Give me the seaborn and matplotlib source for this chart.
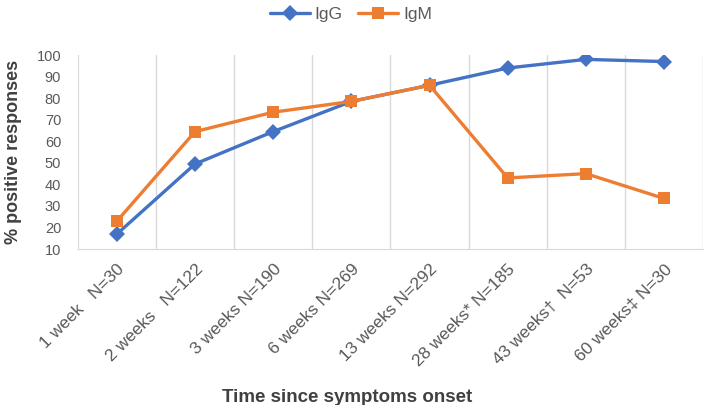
import pandas as pd
import matplotlib.pyplot as plt
import seaborn as sns

# data
categories = ["1 week   N=30", "2 weeks   N=122", "3 weeks N=190", "6 weeks N=269",
              "13 weeks N=292", "28 weeks* N=185", "43 weeks\u2020  N=53", "60 weeks\u2021 N=30"]
igg = [17, 49.5, 64.5, 78.5, 86, 94, 98, 97]
igm = [23, 64.5, 73.5, 78.5, 86, 43, 45, 33.5]

df = pd.DataFrame({
    "pos": list(range(len(categories))) * 2,
    "value": igg + igm,
    "series": ["IgG"] * len(igg) + ["IgM"] * len(igm),
})

sns.set_style("white")
plt.rcParams["font.family"] = ["Liberation Sans", "DejaVu Sans"]

fig = plt.figure(figsize=(7.08, 4.05), dpi=100)
ax = fig.add_axes([0.110, 0.385, 0.883, 0.479])

palette = {"IgG": "#4472C4", "IgM": "#ED7D31"}
sns.lineplot(data=df, x="pos", y="value", hue="series", style="series",
             markers={"IgG": "D", "IgM": "s"}, dashes=False, palette=palette,
             linewidth=2.4, markersize=8.5, markeredgewidth=0, ax=ax)

ax.set_xlim(-0.5, len(categories) - 0.5)
ax.set_ylim(10, 100)
ax.set_yticks(range(10, 101, 10))
ax.set_xticks(range(len(categories)))
ax.set_xticklabels(categories, rotation=45, ha="right", rotation_mode="anchor")
ax.set_xticks([i + 0.5 for i in range(len(categories))], minor=True)
ax.grid(True, which="minor", axis="x", color="#d9d9d9", linewidth=1)
ax.grid(False, which="major")
ax.tick_params(axis="both", which="both", length=0, labelsize=10.5, colors="#595959")
ax.tick_params(axis="x", labelsize=12.5, pad=9)
ax.tick_params(axis="y", pad=12)

for side in ["top", "right"]:
    ax.spines[side].set_visible(False)
for side in ["left", "bottom"]:
    ax.spines[side].set_color("#d9d9d9")

ax.set_xlabel("Time since symptoms onset", fontsize=13.5, fontweight="bold", color="#404040")
ax.set_ylabel("% positive responses", fontsize=13, fontweight="bold", color="#404040")
ax.xaxis.set_label_coords(0.43, -0.72)
ax.yaxis.set_label_coords(-0.09, 0.5)

leg = ax.legend(loc="upper center", bbox_to_anchor=(0.437, 1.33), ncol=2, frameon=False,
                fontsize=12.5, handlelength=2.3, columnspacing=0.9, handletextpad=0.3)
for t in leg.get_texts():
    t.set_color("#595959")

fig.savefig("out.png", dpi=100)
